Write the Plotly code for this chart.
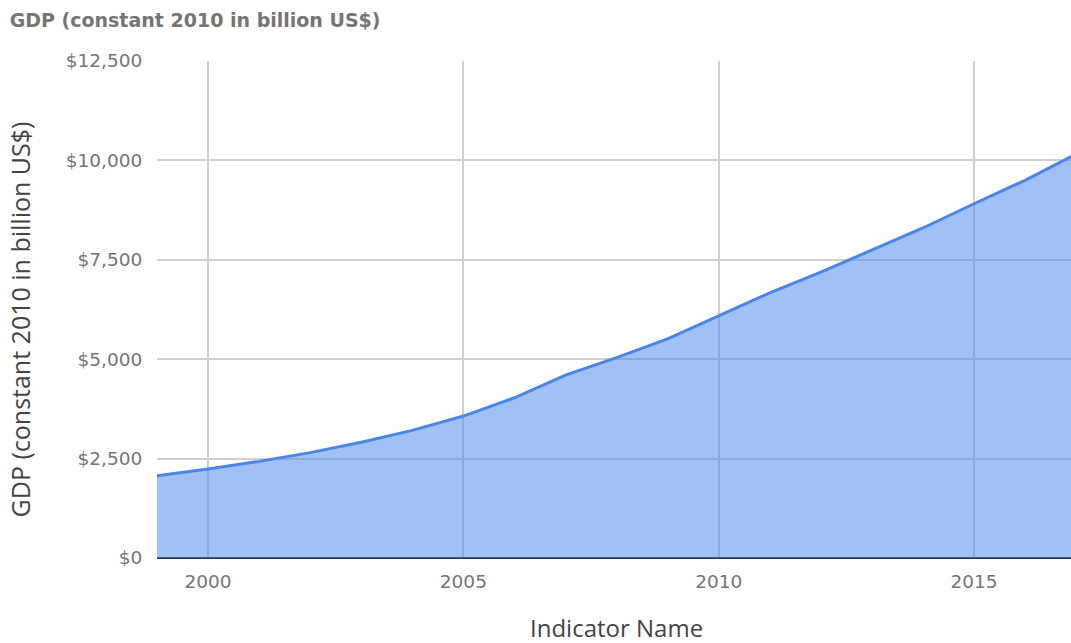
import plotly.graph_objects as go

years = list(range(1999, 2018))
gdp_billion = [2070, 2240, 2430, 2650, 2910, 3210, 3570, 4030, 4600, 5040, 5510,
               6090, 6670, 7190, 7750, 8300, 8910, 9500, 10160]
x_ticks = [2000, 2005, 2010, 2015]
y_ticks = [0, 2500, 5000, 7500, 10000, 12500]
y_tick_labels = ["$" + format(v, ",") for v in y_ticks]

fig = go.Figure()
fig.add_trace(go.Scatter(
    x=years, y=gdp_billion, mode="lines",
    line=dict(color="#4a86e8", width=3),
    fill="tozeroy", fillcolor="rgba(74,134,232,0.52)",
    hoverinfo="x+y", showlegend=False,
))

fig.add_annotation(
    text="GDP (constant 2010 in billion US$)", textangle=-90,
    xref="paper", yref="paper", x=-0.1499, y=0.48,
    xanchor="center", yanchor="middle", showarrow=False,
    font=dict(family="Open Sans", size=25, color="#444444"),
)
fig.add_annotation(
    text="Indicator Name",
    xref="paper", yref="paper", x=0.5027, y=-0.139,
    xanchor="center", yanchor="middle", showarrow=False,
    font=dict(family="Open Sans", size=24, color="#444444"),
)

fig.update_layout(
    width=1071, height=643,
    margin=dict(l=157, r=0, t=61, b=85),
    paper_bgcolor="white", plot_bgcolor="white",
    title=dict(text="<b>GDP (constant 2010 in billion US$)</b>", x=0.009, xanchor="left",
               y=0.968, yanchor="middle",
               font=dict(family="DejaVu Sans", size=19, color="#757575")),
    xaxis=dict(range=[1999, 2016.9], tickvals=x_ticks,
               showgrid=True, gridcolor="#d0d0d0", gridwidth=1.5,
               zeroline=False, showline=False,
               ticks="outside", ticklen=7, tickcolor="rgba(0,0,0,0)",
               tickfont=dict(family="DejaVu Sans", size=18.5, color="#757575")),
    yaxis=dict(range=[0, 12500], tickvals=y_ticks, ticktext=y_tick_labels,
               showgrid=True, gridcolor="#d0d0d0", gridwidth=1.5,
               zeroline=True, zerolinecolor="#333333", zerolinewidth=2,
               ticks="outside", ticklen=10, tickcolor="rgba(0,0,0,0)",
               tickfont=dict(family="DejaVu Sans", size=18.5, color="#757575")),
)

fig.write_html("out.html")
